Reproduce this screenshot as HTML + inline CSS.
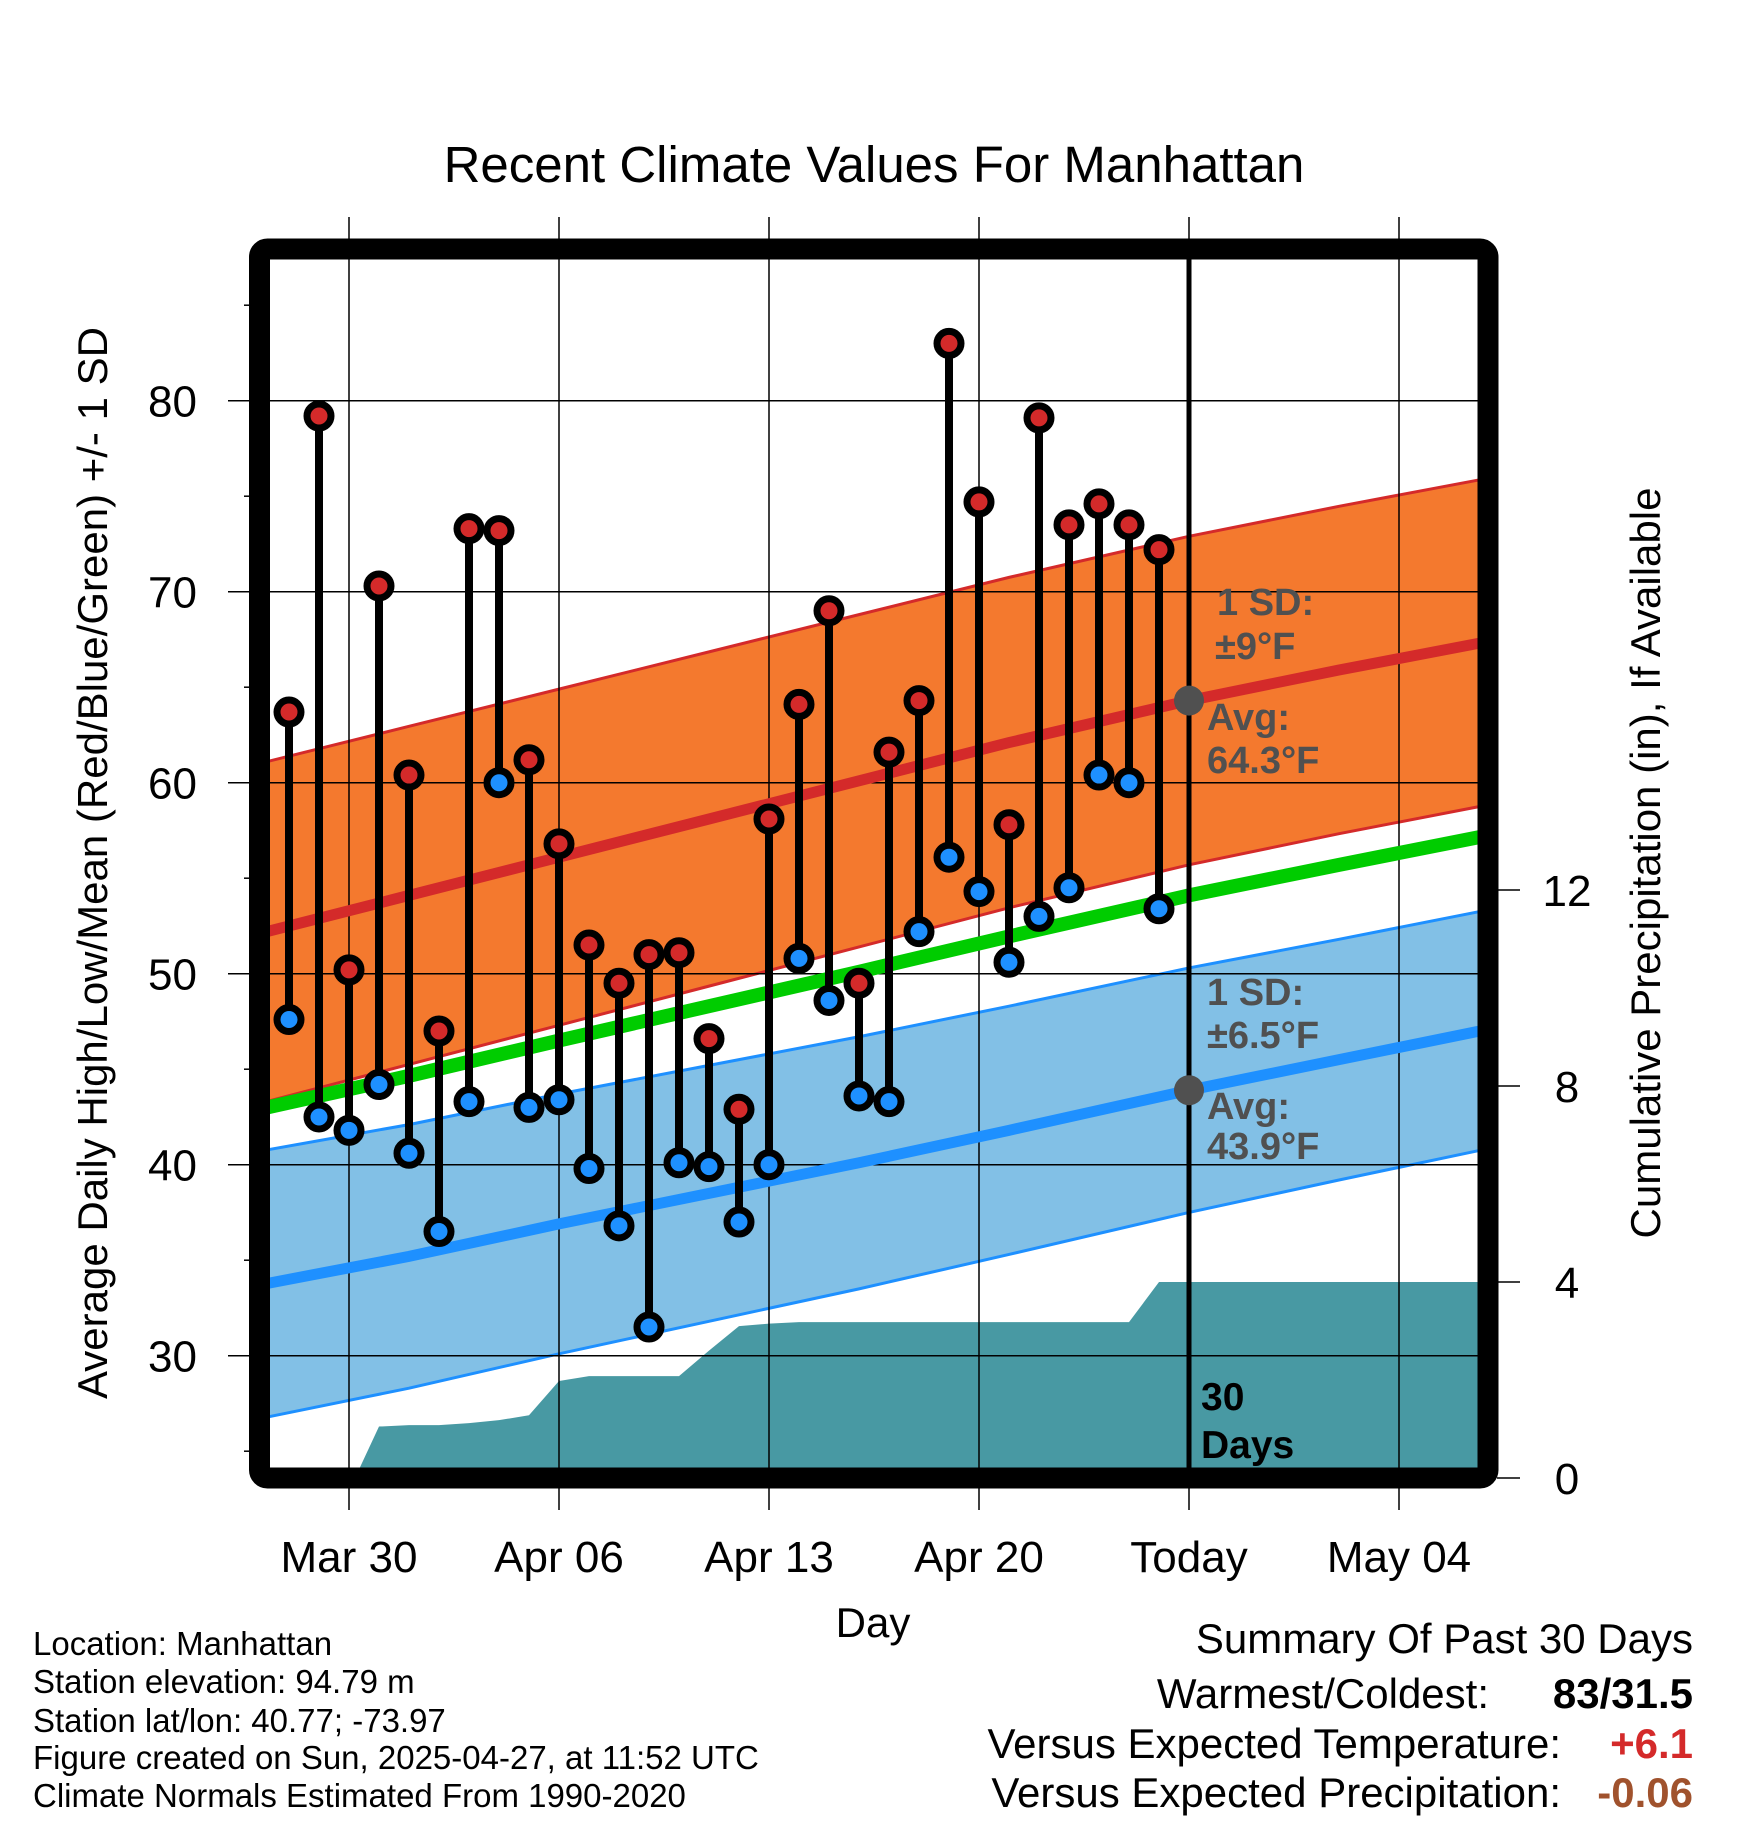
<!DOCTYPE html>
<html><head><meta charset="utf-8">
<style>
html,body{margin:0;padding:0;background:#fff;}
svg{display:block;font-family:"Liberation Sans",Arial,sans-serif;}
</style></head>
<body>
<svg id="chart" width="1748" height="1828" viewBox="0 0 1748 1828" xmlns="http://www.w3.org/2000/svg">
<defs><clipPath id="plotclip"><rect x="270" y="259" width="1208" height="1209"/></clipPath></defs>
<text x="874" y="182" font-size="51" text-anchor="middle">Recent Climate Values For Manhattan</text>
<g id="plot" clip-path="url(#plotclip)"></g>
<g id="over"></g>
<text transform="translate(107,863) rotate(-90)" font-size="42" text-anchor="middle">Average Daily High/Low/Mean (Red/Blue/Green) +/- 1 SD</text>
<text transform="translate(1660,863) rotate(-90)" font-size="42" text-anchor="middle">Cumulative Precipitation (in), If Available</text>
<text x="873" y="1637" font-size="42" text-anchor="middle">Day</text>
<g font-size="33">
<text x="33" y="1655">Location: Manhattan</text>
<text x="33" y="1693">Station elevation: 94.79 m</text>
<text x="33" y="1732">Station lat/lon: 40.77; -73.97</text>
<text x="33" y="1769">Figure created on Sun, 2025-04-27, at 11:52 UTC</text>
<text x="33" y="1807">Climate Normals Estimated From 1990-2020</text>
</g>
<g font-size="42">
<text x="1693" y="1653" text-anchor="end">Summary Of Past 30 Days</text>
<text x="1489" y="1708" text-anchor="end">Warmest/Coldest:</text>
<text x="1693" y="1708" text-anchor="end" font-weight="bold">83/31.5</text>
<text x="1561" y="1758" text-anchor="end">Versus Expected Temperature:</text>
<text x="1693" y="1758" text-anchor="end" font-weight="bold" fill="#d42a2a">+6.1</text>
<text x="1561" y="1807" text-anchor="end">Versus Expected Precipitation:</text>
<text x="1693" y="1807" text-anchor="end" font-weight="bold" fill="#a0522d">-0.06</text>
</g>
</svg>
<script>
// day index: 0 = Mar 30
const obsDays = [-2,-1,0,1,2,3,4,5,6,7,8,9,10,11,12,13,14,15,16,17,18,19,20,21,22,23,24,25,26,27];
const highs = [63.7,79.2,50.2,70.3,60.4,47.0,73.3,73.2,61.2,56.8,51.5,49.5,51.0,51.1,46.6,42.9,58.1,64.1,69.0,49.5,61.6,64.3,83.0,74.7,57.8,79.1,73.5,74.6,73.5,72.2];
const lows = [47.6,42.5,41.8,44.2,40.6,36.5,43.3,60.0,43.0,43.4,39.8,36.8,31.5,40.1,39.9,37.0,40.0,50.8,48.6,43.6,43.3,52.2,56.1,54.3,50.6,53.0,54.5,60.4,60.0,53.4];
const normDays = [-3,2,7,12,17,22,28,33,38];
const normHigh = [52.1,54.1,56.1,58.1,60.1,62.1,64.3,65.9,67.4];
const normLow = [33.7,35.2,36.9,38.5,40.1,41.8,43.9,45.5,47.1];
const sdHigh = [8.9,8.85,8.8,8.75,8.7,8.65,8.6,8.57,8.55];
const sdLow = [7.0,6.9,6.8,6.7,6.6,6.5,6.4,6.3,6.25];
const precipDays = [0.2,1,2,3,4,5,6,7,8,9,10,11,12,13,14,15,16,17,18,19,20,21,22,23,24,25,26,27,28,29,30,31,32,33,34,35,36,37,38];
const precip = [0,1.05,1.08,1.08,1.12,1.18,1.28,1.98,2.08,2.08,2.08,2.08,2.6,3.1,3.15,3.18,3.18,3.18,3.18,3.18,3.18,3.18,3.18,3.18,3.18,3.18,3.18,4.0,4.0,4.0,4.0,4.0,4.0,4.0,4.0,4.0,4.0,4.0,4.0];
const tickDays = [0,7,14,21,28,35];
const tickLabels = ["Mar 30","Apr 06","Apr 13","Apr 20","Today","May 04"];
const yTicks = [30,40,50,60,70,80];
const yMinor = [25,35,45,55,65,75,85];
const pTicks = [0,4,8,12];
const todayDay = 28;

const NS="http://www.w3.org/2000/svg";
const X = d => 349 + 30*d;
const Y = v => 400.7 + (80 - v)*19.1;
const P = p => 1478 - 49*p;
function mk(parent, tag, attrs){const e=document.createElementNS(NS,tag);for(const k in attrs)e.setAttribute(k,attrs[k]);parent.appendChild(e);return e;}
const plot=document.getElementById('plot'), over=document.getElementById('over');

function pts(arr, sd, sign){return normDays.map((d,i)=>X(d)+","+Y(arr[i]+(sd?sign*sd[i]:0))).join(" ");}
function band(arr, sd){const up=normDays.map((d,i)=>X(d)+","+Y(arr[i]+sd[i]));const dn=normDays.map((d,i)=>X(d)+","+Y(arr[i]-sd[i])).reverse();return up.concat(dn).join(" ");}
const meanArr = normHigh.map((h,i)=>(h+normLow[i])/2);

let e;
e=mk(plot,'polygon',{points:band(normHigh,sdHigh),fill:'#f4792e'});


e=mk(plot,'polygon',{points:band(normLow,sdLow),fill:'#82c0e6'});


[[normHigh,sdHigh,1,'#d42a2a'],[normHigh,sdHigh,-1,'#d42a2a'],[normLow,sdLow,1,'#1e90ff'],[normLow,sdLow,-1,'#1e90ff']].forEach(a=>{
  e=mk(plot,'polyline',{points:pts(a[0],a[1],a[2]),fill:'none',stroke:a[3],'stroke-width':3});
  
  
});
const pp=[X(precipDays[0])+","+P(0)].concat(precipDays.map((d,i)=>X(d)+","+P(precip[i]))).concat([X(precipDays[precipDays.length-1])+","+P(0)]);
e=mk(plot,'polygon',{points:pp.join(" "),fill:'#4899a3'});


tickDays.forEach(d=>{e=mk(plot,'line',{x1:X(d),x2:X(d),y1:200,y2:1480,stroke:'#000','stroke-width':1.5});

});
yTicks.forEach(v=>{e=mk(plot,'line',{x1:260,x2:1480,y1:Y(v),y2:Y(v),stroke:'#000','stroke-width':1.5});

});
e=mk(plot,'polyline',{points:pts(meanArr,null,0),fill:'none',stroke:'#00cc00','stroke-width':14});


e=mk(plot,'polyline',{points:pts(normHigh,null,0),fill:'none',stroke:'#d42a2a','stroke-width':11});


e=mk(plot,'polyline',{points:pts(normLow,null,0),fill:'none',stroke:'#1e90ff','stroke-width':11});


const ann=[['1 SD:',1217,615],['±9°F',1215,659],['Avg:',1207,730],['64.3°F',1207,773],['1 SD:',1207,1005],['±6.5°F',1207,1048],['Avg:',1207,1119],['43.9°F',1207,1159]];
ann.forEach(a=>{e=mk(plot,'text',{x:a[1],y:a[2],'font-size':38,'font-weight':'bold',fill:'#505050'});e.textContent=a[0];

});
obsDays.forEach((d,i)=>{
  e=mk(plot,'line',{x1:X(d),x2:X(d),y1:Y(highs[i]),y2:Y(lows[i]),stroke:'#000','stroke-width':8});
  
  
});
obsDays.forEach((d,i)=>{
  e=mk(plot,'circle',{cx:X(d),cy:Y(highs[i]),r:12,fill:'#d42a2a',stroke:'#000','stroke-width':7});
  
  
  e=mk(plot,'circle',{cx:X(d),cy:Y(lows[i]),r:12,fill:'#1e90ff',stroke:'#000','stroke-width':7});
  
  
});
e=mk(plot,'line',{x1:X(todayDay),x2:X(todayDay),y1:250,y2:1470,stroke:'#000','stroke-width':5});


const ti=normDays.indexOf(28);
e=mk(plot,'circle',{cx:X(todayDay),cy:Y(normHigh[ti]),r:15,fill:'#505050'});


e=mk(plot,'circle',{cx:X(todayDay),cy:Y(normLow[ti]),r:15,fill:'#505050'});


[['30',1410],['Days',1458]].forEach(a=>{e=mk(plot,'text',{x:1201,y:a[1],'font-size':39,'font-weight':'bold'});e.textContent=a[0];

});
tickDays.forEach((d,i)=>{
  e=mk(over,'line',{x1:X(d),x2:X(d),y1:217,y2:240,stroke:'#000','stroke-width':1.5});
  
  
  e=mk(over,'line',{x1:X(d),x2:X(d),y1:1487,y2:1510,stroke:'#000','stroke-width':1.5});
  
  
  e=mk(over,'text',{x:X(d),y:1572,'font-size':44,'text-anchor':'middle'});e.textContent=tickLabels[i];
  
  
});
yTicks.forEach(v=>{
  e=mk(over,'line',{x1:228,x2:250,y1:Y(v),y2:Y(v),stroke:'#000','stroke-width':1.5});
  
  
  e=mk(over,'text',{x:197,y:Y(v)+16,'font-size':44,'text-anchor':'end'});e.textContent=v;
  
  
});
yMinor.forEach(v=>{
  e=mk(over,'line',{x1:244,x2:250,y1:Y(v),y2:Y(v),stroke:'#000','stroke-width':1.5});
  
  
});
pTicks.forEach(p=>{
  e=mk(over,'line',{x1:1497,x2:1520,y1:P(p),y2:P(p),stroke:'#000','stroke-width':1.5});
  
  
  e=mk(over,'text',{x:1567,y:P(p)+16,'font-size':44,'text-anchor':'middle'});e.textContent=p;
  
  
});
e=mk(over,'rect',{x:259.5,y:249,width:1228.5,height:1229,fill:'none',stroke:'#000','stroke-width':21,rx:8});


</script>
</body></html>
